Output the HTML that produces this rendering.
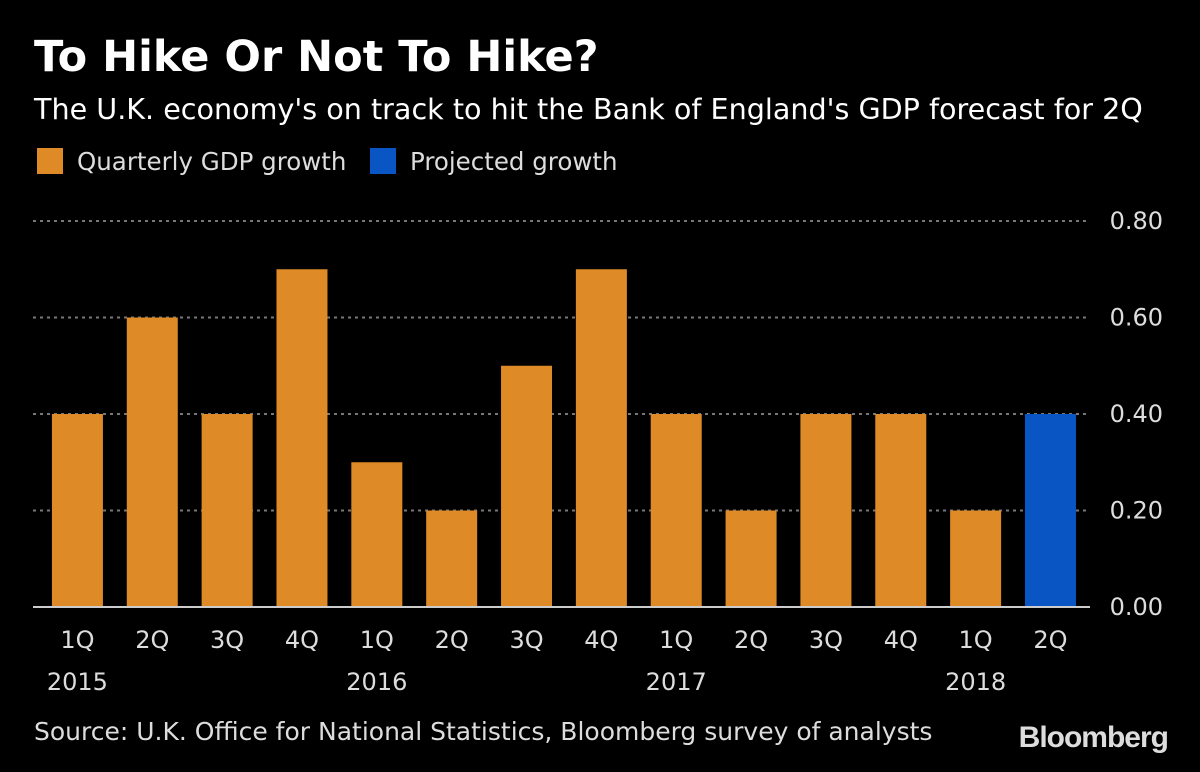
<!DOCTYPE html>
<html><head><meta charset="utf-8"><style>
body{margin:0;background:#000;width:1200px;height:768px;overflow:hidden;font-family:"DejaVu Sans","Liberation Sans",sans-serif;color:#ddd}
</style></head><body>
<svg width="1200" height="768" xmlns="http://www.w3.org/2000/svg">
<text x="34" y="71" fill="#fff" font-size="43" font-weight="bold" font-family="DejaVu Sans, sans-serif">To Hike Or Not To Hike?</text>
<text x="34" y="119" fill="#fff" font-size="28.6">The U.K. economy's on track to hit the Bank of England's GDP forecast for 2Q</text>
<g>
<rect x="37" y="148" width="26" height="26" fill="#de8a26"/>
<text x="77" y="170" fill="#ddd" font-size="24.5">Quarterly GDP growth</text>
<rect x="370" y="148" width="26" height="26" fill="#0a55c4"/>
<text x="410" y="170" fill="#ddd" font-size="24.5">Projected growth</text>
</g>
<g id="plot"></g>
<text x="34" y="740" fill="#ddd" font-size="25">Source: U.K. Office for National Statistics, Bloomberg survey of analysts</text>
<text x="1168" y="747" fill="#ddd" font-size="30" font-weight="bold" text-anchor="end" font-family="Liberation Sans, sans-serif" letter-spacing="-1">Bloomberg</text>
</svg>
<script>
const quarters=["1Q","2Q","3Q","4Q","1Q","2Q","3Q","4Q","1Q","2Q","3Q","4Q","1Q","2Q"];
const years=["2015","","","","2016","","","","2017","","","","2018",""];
const values=[0.4,0.6,0.4,0.7,0.3,0.2,0.5,0.7,0.4,0.2,0.4,0.4,0.2,0.4];
const projected=[false,false,false,false,false,false,false,false,false,false,false,false,false,true];
const yTicks=[0,0.2,0.4,0.6,0.8];
const NS="http://www.w3.org/2000/svg";
const g=document.getElementById('plot');
const y0=607,y1=221,ymax=0.8;
const yS=v=>y0-(v/ymax)*(y0-y1);
const x0=40,step=74.85,bw=51;
const xC=i=>x0+step*(i+0.5);
function mk(t,a){const e=document.createElementNS(NS,t);for(const k in a)e.setAttribute(k,a[k]);g.appendChild(e);return e;}
yTicks.forEach(v=>{
 if(v>0){const l=mk('line',{x1:33,x2:1090,y1:yS(v),y2:yS(v),stroke:'#777','stroke-width':2,'stroke-dasharray':'3,4'});
 
 }
 const t=mk('text',{x:1163,y:yS(v)+8,fill:'#ddd','font-size':24,'text-anchor':'end'});
 t.textContent=v.toFixed(2);
 
 
});
values.forEach((v,i)=>{
 const r=mk('rect',{x:xC(i)-bw/2,y:yS(v),width:bw,height:y0-yS(v),fill:projected[i]?'#0a55c4':'#de8a26'});
 
 
 const t=mk('text',{x:xC(i),y:648,fill:'#ddd','font-size':24,'text-anchor':'middle'});
 t.textContent=quarters[i];
 
 
 if(years[i]){const yt=mk('text',{x:xC(i),y:690,fill:'#ddd','font-size':24,'text-anchor':'middle'});
 yt.textContent=years[i];
 
 }
});
const ax=mk('line',{x1:33,x2:1090,y1:y0,y2:y0,stroke:'#ccc','stroke-width':2});


</script>
</body></html>
